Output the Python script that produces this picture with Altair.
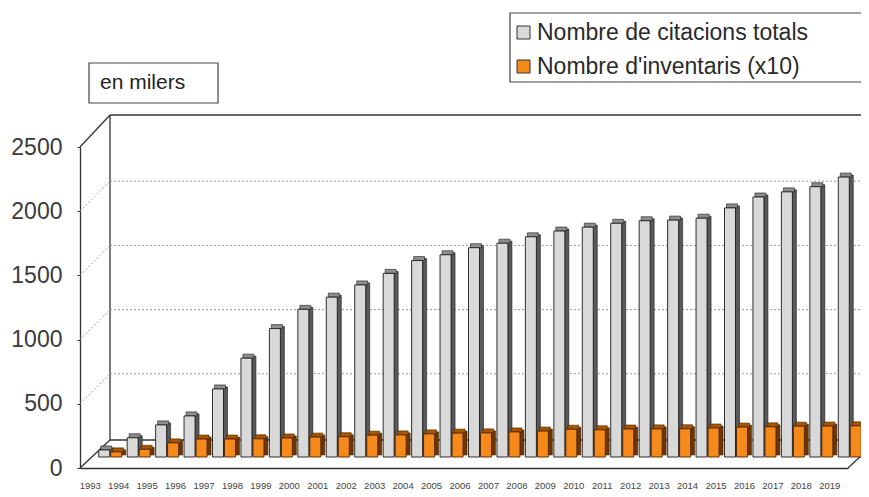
import altair as alt
import pandas as pd

years = ["1993", "1994", "1995", "1996", "1997", "1998", "1999", "2000", "2001",
         "2002", "2003", "2004", "2005", "2006", "2007", "2008", "2009", "2010",
         "2011", "2012", "2013", "2014", "2015", "2016", "2017", "2018", "2019"]
citacions = [55, 150, 250, 320, 530, 770, 1000, 1150, 1245, 1340, 1430, 1530, 1575,
             1630, 1665, 1715, 1760, 1790, 1820, 1840, 1845, 1860, 1940, 2025, 2065,
             2105, 2180]
inventaris = [40, 60, 110, 140, 140, 142, 148, 155, 158, 170, 172, 180, 186,
              188, 195, 202, 216, 212, 218, 219, 220, 226, 233, 235, 240, 241, 243]
S1 = "Nombre de citacions totals"
S2 = "Nombre d'inventaris (x10)"
grid_values = [500, 1000, 1500, 2000]
y_ticks = [0, 500, 1000, 1500, 2000, 2500]
unit_label = "en milers"

rows = []
for y, c, i in zip(years, citacions, inventaris):
    rows.append({"year": y, "series": S1, "value": c})
    rows.append({"year": y, "series": S2, "value": i})
df = pd.DataFrame(rows)
gdf = pd.DataFrame({"value": grid_values})
one = pd.DataFrame({"k": [0]})

FONT = "Liberation Sans"
W, H = 768, 321

xenc = alt.X("year:N", sort=years,
             scale=alt.Scale(paddingInner=0, paddingOuter=0),
             axis=alt.Axis(title=None, labelAngle=0, labelFontSize=9.5, labelColor="#444",
                           labelPadding=12, ticks=False, domainColor="#333",
                           domainWidth=1.3, labelOffset=-4, labelFont=FONT))
yscale = alt.Scale(domain=[0, 2500], nice=False)
yenc = alt.Y("value:Q", scale=yscale,
             axis=alt.Axis(title=None, values=y_ticks, format="d", labelFontSize=23,
                           labelColor="#3a3a3a", labelFont=FONT, grid=False, tickSize=3,
                           tickColor="#333", labelPadding=15, domainColor="#333",
                           domainWidth=1.3))

color = alt.Color("series:N",
                  scale=alt.Scale(domain=[S1, S2], range=["#d9d9d9", "#f5891c"]),
                  legend=alt.Legend(orient="none", legendX=432, legendY=-126, title=None,
                                    labelFontSize=23, labelColor="#2a2a2a", labelFont=FONT,
                                    labelLimit=0,
                                    symbolType="square", symbolSize=169,
                                    symbolStrokeColor="#333", symbolStrokeWidth=1,
                                    labelOffset=2, rowPadding=10, padding=0))


def frame(x1, x2, y1, y2):
    return alt.Chart(one).mark_rule(stroke="#333", strokeWidth=1.3).encode(
        x=alt.value(x1), x2=alt.value(x2), y=alt.value(y1), y2=alt.value(y2))


frames = [
    frame(0, 30, 0, -32),
    frame(30, 30, -32, 293),
    frame(30, 800, -32, -32),
    frame(30, 800, 293, 293),
    frame(0, 30, 321, 293),
    frame(768, 798, 321, 293),
]

back_grid = alt.Chart(gdf).mark_rule(stroke="#999", strokeWidth=1, strokeDash=[2, 2],
                                      yOffset=-30).encode(
    x=alt.value(30), x2=alt.value(800), y=yenc)
side_grid = alt.Chart(gdf).mark_rule(stroke="#999", strokeWidth=1, strokeDash=[2, 2],
                                      y2Offset=-30).encode(
    x=alt.value(0), x2=alt.value(30), y=yenc, y2=alt.Y2("value:Q"))


def bar3d(series, off, side_col, cap_col, edge):
    b = alt.Chart(df).transform_filter(alt.datum.series == series)
    side = b.mark_bar(size=4, xOffset=off + 7.5, yOffset=-13, y2Offset=-13,
                      fill=side_col, stroke=edge, strokeWidth=0.6).encode(
        x=xenc, y=yenc, y2=alt.datum(0))
    cap = b.mark_bar(size=11, xOffset=off + 2, yOffset=-15, y2Offset=-11,
                     fill=cap_col, stroke=edge, strokeWidth=0.6).encode(
        x=xenc, y=yenc, y2=alt.Y2("value:Q"))
    face = b.mark_bar(size=11, xOffset=off, yOffset=-11, y2Offset=-11,
                      stroke=edge, strokeWidth=0.9, opacity=1).encode(
        x=xenc, y=yenc, y2=alt.datum(0), color=color)
    return [side, cap, face]


legend_box = alt.Chart(one).mark_rect(fill="white", stroke="#444", strokeWidth=1.2).encode(
    x=alt.value(430), x2=alt.value(830), y=alt.value(-134), y2=alt.value(-65))
unit_box = alt.Chart(one).mark_rect(fill="white", stroke="#444", strokeWidth=1.2).encode(
    x=alt.value(9), x2=alt.value(138), y=alt.value(-84), y2=alt.value(-44))
unit_text = alt.Chart(one).mark_text(align="left", baseline="middle", fontSize=21,
                                     color="#222", font=FONT).encode(
    x=alt.value(20), y=alt.value(-64), text=alt.value(unit_label))

layers = [legend_box, unit_box, unit_text] + frames + [back_grid, side_grid]
layers += bar3d(S1, 10, "#5a5a5a", "#8e8e8e", "#1a1a1a")
layers += bar3d(S2, 22, "#6e3500", "#a85500", "#4a2400")

chart = alt.layer(*layers).properties(
    width=W, height=H,
    padding={"left": 72, "top": 139, "right": 13, "bottom": 21},
    autosize=alt.AutoSizeParams(type="none"),
    background="white",
).configure_view(stroke=None).configure_axis(labelFont=FONT)

chart.save("out.html", embed_options={"renderer": "svg", "actions": False})
